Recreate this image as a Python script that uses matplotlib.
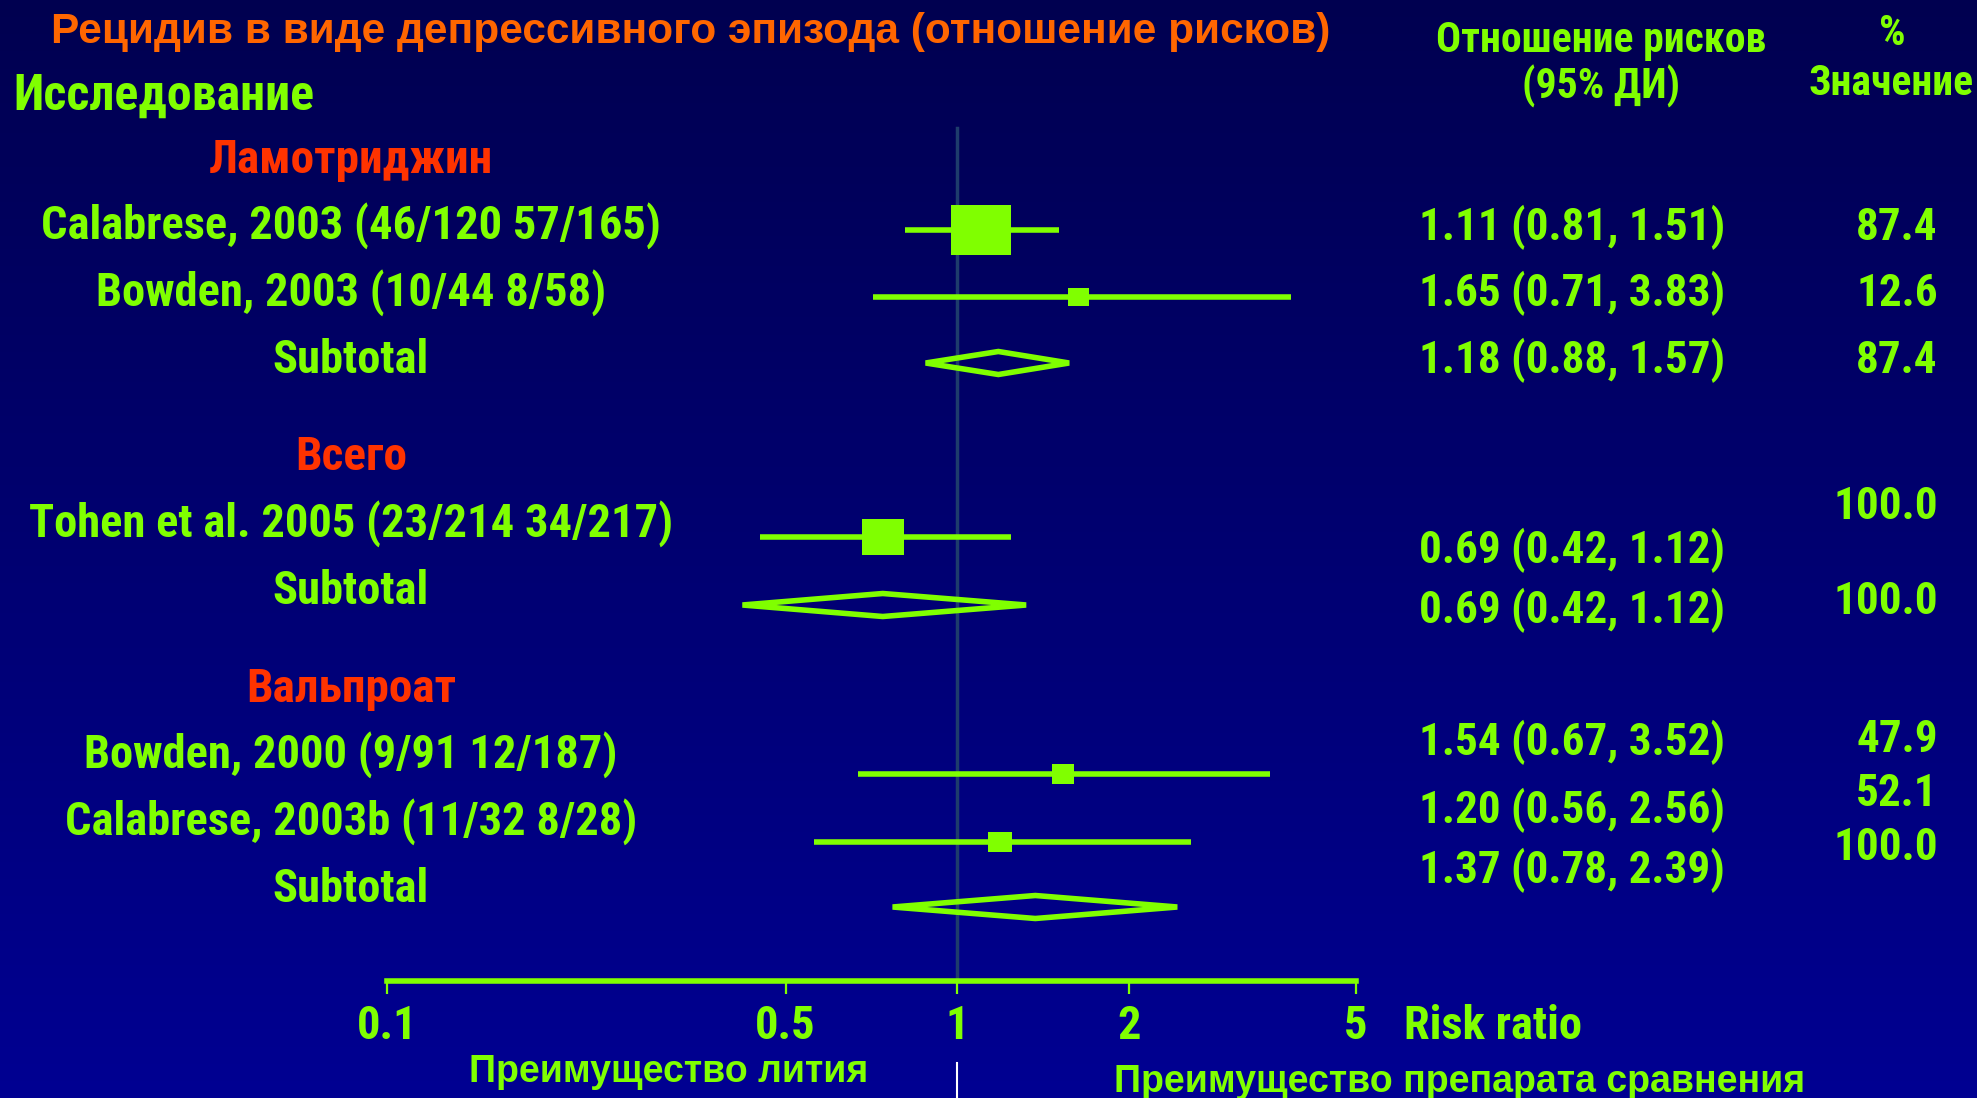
import numpy as np
import matplotlib.pyplot as plt
from matplotlib.path import Path
from matplotlib.ticker import NullLocator

# ---------------------- DATA ----------------------
title = "Рецидив в виде депрессивного эпизода (отношение рисков)"
groups = ["Ламотриджин", "Всего", "Вальпроат"]
row_labels = ["Calabrese, 2003 (46/120 57/165)", "Bowden, 2003 (10/44 8/58)", "Subtotal",
              "Tohen et al. 2005 (23/214 34/217)", "Subtotal",
              "Bowden, 2000 (9/91 12/187)", "Calabrese, 2003b (11/32 8/28)", "Subtotal"]
row_is_total = [False, False, True, False, True, False, False, True]
# estimates as drawn on the chart
row_rr = [1.10, 1.63, 1.18, 0.74, 0.74, 1.53, 1.19, 1.37]
row_lo = [0.81, 0.71, 0.88, 0.45, 0.42, 0.67, 0.56, 0.77]
row_hi = [1.51, 3.85, 1.57, 1.24, 1.32, 3.53, 2.57, 2.43]
# values as printed in the right-hand column
row_ci_text = ["1.11 (0.81, 1.51)", "1.65 (0.71, 3.83)", "1.18 (0.88, 1.57)",
               "0.69 (0.42, 1.12)", "0.69 (0.42, 1.12)",
               "1.54 (0.67, 3.52)", "1.20 (0.56, 2.56)", "1.37 (0.78, 2.39)"]
row_weight = ["87.4", "12.6", "87.4", "100.0", "100.0", "47.9", "52.1", "100.0"]
x_ticks = [0.1, 0.5, 1, 2, 5]
x_tick_labels = ["0.1", "0.5", "1", "2", "5"]

# ---------------------- LAYOUT (pixels from top) ----------------------
W, H = 1977, 1098
label_y = [239, 306, 373, 537, 604, 768, 835, 902]
mark_y = [230, 297, 363, 537, 605, 774, 842, 907]
rr_y = [240, 306, 373, 563, 623, 755, 823, 883]
wt_y = [240, 306, 373, 519, 614, 752, 806, 860]
group_y = [173, 470, 702]
box_w = {0: 60, 1: 21, 3: 42, 5: 23, 6: 24}   # square widths, px
axis_y = 981

GREEN = "#80FF00"
RED = "#FF3300"
ORANGE = "#FF6600"
NARROW = ["Roboto Condensed", "Liberation Sans", "DejaVu Sans"]
WIDE = ["Liberation Sans", "DejaVu Sans"]

fig = plt.figure(figsize=(W / 100, H / 100), dpi=100)

# background gradient
bg = fig.add_axes([0, 0, 1, 1])
grad = np.linspace(0, 1, 256)[:, None]
c_top = np.array([0, 0, 80]) / 255
c_bot = np.array([0, 0, 146]) / 255
img = c_top + grad[..., None] * (c_bot - c_top)
bg.imshow(np.repeat(img, 2, axis=1), aspect="auto", extent=[0, 1, 0, 1], origin="upper")
bg.axis("off")


def ftext(x, y, s, **kw):
    kw.setdefault("family", NARROW)
    kw.setdefault("weight", "bold")
    kw.setdefault("va", "baseline")
    fig.text(x / W, 1 - y / H, s, **kw)


# forest axes: x log 0.1..5 mapped to px 387..1356, y in pixel rows
ax = fig.add_axes([387 / W, 0, (1356 - 387) / W, 1])
ax.set_xscale("log")
ax.set_xlim(0.1, 5)
ax.set_ylim(H, 0)
ax.patch.set_alpha(0)
for s in ["top", "left", "right"]:
    ax.spines[s].set_visible(False)
ax.spines["bottom"].set_position(("data", axis_y))
ax.spines["bottom"].set_color(GREEN)
ax.spines["bottom"].set_linewidth(4)
ax.set_yticks([])
ax.set_xticks(x_ticks)
ax.xaxis.set_minor_locator(NullLocator())
ax.set_xticklabels([])
ax.tick_params(axis="x", direction="out", length=9, width=1.6, color=GREEN)
ax.xaxis.get_major_ticks()[0].tick1line.set_color("white")

# reference line at 1
ax.plot([1, 1], [128, axis_y - 3], color="#1e3c6c", lw=2.5, zorder=1)
ax.plot([1, 1], [1063, H], color="white", lw=1.5, zorder=1, clip_on=False)

rect = Path([(-0.5, -0.42), (0.5, -0.42), (0.5, 0.42), (-0.5, 0.42), (-0.5, -0.42)],
            [Path.MOVETO, Path.LINETO, Path.LINETO, Path.LINETO, Path.CLOSEPOLY])

for i in range(len(row_rr)):
    y = mark_y[i]
    if row_is_total[i]:
        h = 11.5
        ax.fill([row_lo[i], row_rr[i], row_hi[i], row_rr[i]], [y, y - h, y, y + h],
                facecolor="none", edgecolor=GREEN, lw=4, zorder=3)
    else:
        ax.hlines(y, row_lo[i], row_hi[i], color=GREEN, lw=4, zorder=2)
        ax.plot(row_rr[i], y, marker=rect, ms=box_w[i] * 0.72, color=GREEN, mew=0, zorder=3)

for t, lab in zip(x_ticks, x_tick_labels):
    ax.text(t, 1039, lab, ha="center", va="baseline", color=GREEN, fontsize=33.5,
            family=NARROW, weight="bold")

# ---------------------- TEXT ----------------------
ftext(51, 43, title, color=ORANGE, fontsize=30.5, family=WIDE)
ftext(13, 110, "Исследование", color=GREEN, fontsize=36)
ftext(1601, 52, "Отношение рисков", color=GREEN, fontsize=30, ha="center")
ftext(1601, 98, "(95% ДИ)", color=GREEN, fontsize=30, ha="center")
ftext(1892, 45, "%", color=GREEN, fontsize=30, ha="center")
ftext(1891, 95, "Значение", color=GREEN, fontsize=30, ha="center")

for g, y in zip(groups, group_y):
    ftext(351, y, g, color=RED, fontsize=34, ha="center")

for i, lab in enumerate(row_labels):
    ftext(351, label_y[i], lab, color=GREEN, fontsize=33.5, ha="center")
    ftext(1725, rr_y[i], row_ci_text[i], color=GREEN, fontsize=32.5, ha="right")
    ftext(1938, wt_y[i], row_weight[i], color=GREEN, fontsize=32.5, ha="right")

ftext(1404, 1039, "Risk ratio", color=GREEN, fontsize=33.5)
ftext(669, 1082, "Преимущество лития", color=GREEN, fontsize=27, ha="center", family=WIDE)
ftext(1460, 1092, "Преимущество препарата сравнения", color=GREEN, fontsize=27,
      ha="center", family=WIDE)

fig.savefig("out.png", dpi=100)
